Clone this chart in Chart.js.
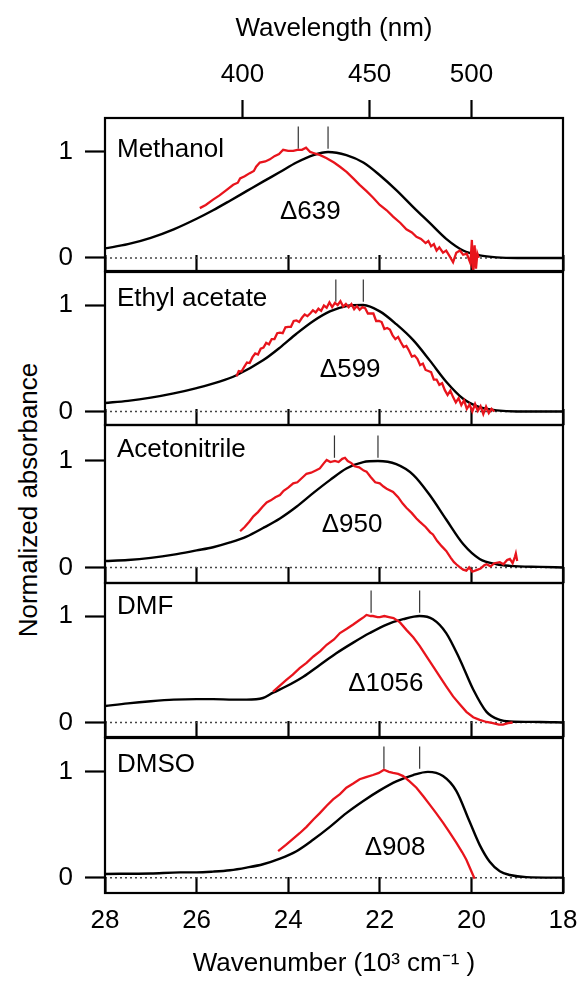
<!DOCTYPE html>
<html>
<head>
<meta charset="utf-8">
<script src="https://cdn.jsdelivr.net/npm/chart.js@4.4.0/dist/chart.umd.min.js"></script>
<style>
  html, body { margin: 0; padding: 0; background: #fff; }
  #fig { position: relative; width: 580px; height: 983px; }
  #fig canvas { position: absolute; left: 0; }
  #ytitle {
    position: absolute; left: 28px; top: 500px;
    transform: translate(-50%, -50%) rotate(-90deg);
    font: 26px "Liberation Sans", Arial, sans-serif; color: #000; white-space: nowrap;
  }
</style>
</head>
<body>
<div id="fig"><div id="ytitle">Normalized absorbance</div></div>
<script>
const solvents = ['Methanol', 'Ethyl acetate', 'Acetonitrile', 'DMF', 'DMSO'];
const shiftLabels = ['\u0394639', '\u0394599', '\u0394950', '\u03941056', '\u0394908'];
const wavenumberTicks = [28, 26, 24, 22, 20, 18];
const wavelengthTicks = [400, 450, 500];
const absorbanceTicks = [0, 1];

// peak positions (10^3 cm-1), marked by the short vertical lines
const peakRed = [23.78, 22.96, 22.99, 22.19, 21.91];
const peakBlack = [23.13, 22.36, 22.04, 21.13, 21.13];

// black curves: [wavenumber, normalized absorbance]
const absMethanol = [[28, 0.09], [27.5, 0.13], [27, 0.19], [26.5, 0.27], [26, 0.37], [25.64, 0.45], [25.27, 0.54],
  [24.91, 0.63], [24.55, 0.72], [24.18, 0.81], [23.82, 0.9], [23.45, 0.97], [23.13, 1.0], [22.73, 0.97],
  [22.36, 0.9], [22, 0.78], [21.64, 0.64], [21.27, 0.48], [20.91, 0.33], [20.55, 0.18], [20.18, 0.07],
  [19.82, 0.025], [19.45, 0.006], [19, 0], [18, 0]];
const absEthyl = [[28, 0.08], [27.5, 0.1], [27, 0.13], [26.5, 0.17], [26, 0.22], [25.5, 0.28], [25.13, 0.34],
  [24.55, 0.48], [24.18, 0.6], [23.82, 0.73], [23.45, 0.85], [23.09, 0.94], [22.73, 0.99], [22.36, 1.0],
  [22, 0.94], [21.64, 0.82], [21.27, 0.67], [20.91, 0.48], [20.55, 0.28], [20.18, 0.12], [19.82, 0.04],
  [19.45, 0.01], [19, 0], [18, 0]];
const absAcetonitrile = [[28, 0.06], [27.5, 0.07], [27, 0.09], [26.5, 0.12], [26, 0.16], [25.64, 0.19],
  [25.27, 0.235], [24.91, 0.29], [24.55, 0.37], [24.18, 0.46], [23.82, 0.57], [23.45, 0.7], [23.09, 0.82],
  [22.73, 0.93], [22.36, 0.99], [22.04, 1.0], [21.64, 0.97], [21.27, 0.87], [20.91, 0.68], [20.55, 0.45],
  [20.18, 0.22], [19.82, 0.08], [19.45, 0.03], [19.16, 0.015], [18.5, 0.005], [18, 0]];
const absDMF = [[28, 0.155], [27.5, 0.18], [27, 0.2], [26.5, 0.215], [26, 0.22], [25.64, 0.22], [25.2, 0.215],
  [24.91, 0.215], [24.55, 0.23], [24.33, 0.28], [24.04, 0.34], [23.67, 0.43], [23.31, 0.54], [22.95, 0.65],
  [22.58, 0.75], [22.22, 0.84], [21.85, 0.92], [21.49, 0.97], [21.13, 1.0], [20.84, 0.97], [20.55, 0.84],
  [20.25, 0.59], [19.96, 0.31], [19.67, 0.1], [19.38, 0.025], [19.16, 0.01], [18.5, 0.005], [18, 0]];
const absDMSO = [[28, 0.035], [27, 0.04], [26.36, 0.05], [26, 0.05], [25.64, 0.057], [25.27, 0.07], [24.91, 0.095],
  [24.55, 0.127], [24.18, 0.18], [23.82, 0.25], [23.45, 0.36], [23.09, 0.48], [22.73, 0.61], [22.36, 0.725],
  [22, 0.825], [21.64, 0.91], [21.27, 0.97], [20.95, 1.0], [20.62, 0.96], [20.33, 0.82], [20.04, 0.53],
  [19.82, 0.31], [19.6, 0.15], [19.38, 0.06], [19.16, 0.025], [18.8, 0.005], [18, 0]];

// red curves: [wavenumber, normalized signal]
const redMethanol = [[25.93, 0.47], [25.8, 0.5], [25.64, 0.55], [25.5, 0.59], [25.35, 0.64], [25.2, 0.69],
  [25.1, 0.71], [25.05, 0.75], [24.95, 0.77], [24.84, 0.8], [24.75, 0.82], [24.7, 0.86], [24.62, 0.9],
  [24.5, 0.91], [24.4, 0.93], [24.3, 0.96], [24.2, 0.98], [24.11, 1.02], [24, 1.01], [23.89, 1.01],
  [23.8, 1.02], [23.7, 1.02], [23.61, 1.04], [23.52, 1.0], [23.45, 0.99], [23.3, 0.97], [23.16, 0.94],
  [23, 0.9], [22.87, 0.86], [22.72, 0.81], [22.58, 0.75], [22.44, 0.69], [22.29, 0.63], [22.15, 0.57],
  [22, 0.5], [21.85, 0.45], [21.71, 0.39], [21.55, 0.33], [21.42, 0.27], [21.3, 0.24], [21.2, 0.2],
  [21.1, 0.18], [21, 0.14], [20.94, 0.16], [20.88, 0.11], [20.82, 0.13], [20.76, 0.07], [20.7, 0.1],
  [20.62, 0.05], [20.55, 0.07], [20.48, 0.02], [20.4, -0.04], [20.33, 0.05], [20.25, 0.07], [20.18, 0.03],
  [20.1, 0.04], [20.02, -0.05], [19.99, 0.17], [19.96, -0.14], [19.93, 0.12], [19.9, -0.1], [19.87, 0.04],
  [19.84, 0.0]];
const redEthyl = [[25.13, 0.33], [25.08, 0.38], [25.02, 0.375], [24.96, 0.42], [24.9, 0.46], [24.84, 0.455],
  [24.78, 0.51], [24.72, 0.545], [24.66, 0.535], [24.6, 0.59], [24.54, 0.6], [24.48, 0.645], [24.42, 0.63],
  [24.36, 0.68], [24.3, 0.68], [24.24, 0.735], [24.18, 0.74], [24.12, 0.735], [24.06, 0.79], [24, 0.795],
  [23.94, 0.795], [23.88, 0.85], [23.82, 0.855], [23.76, 0.84], [23.7, 0.88], [23.64, 0.91], [23.58, 0.895],
  [23.52, 0.92], [23.46, 0.95], [23.4, 0.93], [23.34, 0.965], [23.28, 0.945], [23.22, 0.995], [23.16, 0.975],
  [23.1, 1.025], [23.04, 0.98], [22.98, 1.02], [22.92, 1.0], [22.86, 1.035], [22.8, 0.985], [22.74, 1.01],
  [22.68, 0.98], [22.62, 1.01], [22.56, 0.96], [22.5, 0.99], [22.44, 0.955], [22.38, 0.98], [22.32, 0.97],
  [22.26, 0.92], [22.2, 0.92], [22.14, 0.92], [22.08, 0.85], [22.02, 0.85], [21.96, 0.84], [21.9, 0.775],
  [21.84, 0.785], [21.78, 0.77], [21.72, 0.715], [21.66, 0.68], [21.6, 0.7], [21.54, 0.65], [21.48, 0.605],
  [21.42, 0.615], [21.36, 0.57], [21.3, 0.515], [21.24, 0.525], [21.18, 0.495], [21.12, 0.435], [21.06, 0.45],
  [21, 0.39], [20.94, 0.38], [20.88, 0.37], [20.82, 0.3], [20.76, 0.3], [20.7, 0.25], [20.64, 0.265],
  [20.58, 0.2], [20.52, 0.155], [20.46, 0.195], [20.4, 0.135], [20.34, 0.085], [20.28, 0.125], [20.22, 0.06],
  [20.16, 0.105], [20.1, 0.025], [20.04, 0.065], [19.98, 0.0], [19.92, 0.07], [19.86, 0.005], [19.8, 0.05],
  [19.74, -0.025], [19.68, 0.045], [19.62, -0.015], [19.56, 0.025], [19.5, 0.0]];
const redAcetonitrile = [[25.05, 0.34], [24.95, 0.38], [24.85, 0.43], [24.76, 0.48], [24.66, 0.52], [24.56, 0.57],
  [24.47, 0.61], [24.38, 0.63], [24.28, 0.66], [24.18, 0.68], [24.1, 0.72], [24, 0.75], [23.89, 0.79],
  [23.8, 0.8], [23.7, 0.84], [23.6, 0.88], [23.5, 0.89], [23.4, 0.91], [23.31, 0.93], [23.22, 0.98],
  [23.16, 1.01], [23.08, 0.99], [22.98, 1.0], [22.9, 0.99], [22.82, 1.02], [22.76, 1.03], [22.7, 1.0],
  [22.62, 0.98], [22.55, 0.95], [22.45, 0.94], [22.35, 0.91], [22.29, 0.9], [22.2, 0.85], [22.1, 0.8],
  [22, 0.79], [21.92, 0.76], [21.85, 0.74], [21.71, 0.71], [21.6, 0.66], [21.5, 0.6], [21.42, 0.56],
  [21.3, 0.51], [21.2, 0.46], [21.13, 0.43], [21, 0.38], [20.9, 0.33], [20.84, 0.31], [20.75, 0.25],
  [20.65, 0.2], [20.55, 0.155], [20.45, 0.09], [20.38, 0.05], [20.33, 0.03], [20.25, 0.0], [20.18, -0.02],
  [20.11, -0.03], [20.05, 0.0], [19.98, -0.04], [19.89, -0.025], [19.8, -0.01], [19.72, 0.02], [19.67, 0.03],
  [19.58, 0.01], [19.5, 0.04], [19.38, 0.05], [19.3, 0.03], [19.22, 0.07], [19.16, 0.08], [19.1, 0.04],
  [19.05, 0.1], [19.03, 0.13], [19, 0.06]];
const redDMF = [[24.33, 0.29], [24.2, 0.34], [24.04, 0.4], [23.9, 0.45], [23.75, 0.51], [23.6, 0.56], [23.45, 0.62],
  [23.3, 0.67], [23.16, 0.73], [23, 0.78], [22.87, 0.84], [22.72, 0.88], [22.58, 0.92], [22.45, 0.96],
  [22.35, 0.99], [22.29, 1.01], [22.2, 1.0], [22.15, 1.0], [22.05, 0.99], [22, 0.99], [21.9, 1.0], [21.8, 0.99],
  [21.7, 0.98], [21.56, 0.94], [21.42, 0.87], [21.27, 0.8], [21.13, 0.72], [20.98, 0.62], [20.84, 0.53],
  [20.69, 0.43], [20.55, 0.34], [20.4, 0.245], [20.25, 0.17], [20.11, 0.1], [19.96, 0.05], [19.82, 0.025],
  [19.67, 0.005], [19.53, -0.006], [19.4, -0.02], [19.31, -0.02], [19.2, -0.005], [19.1, 0.0]];
const redDMSO = [[24.22, 0.25], [24.05, 0.31], [23.89, 0.37], [23.75, 0.42], [23.6, 0.48], [23.45, 0.55],
  [23.31, 0.61], [23.16, 0.68], [23.02, 0.74], [22.87, 0.79], [22.73, 0.85], [22.58, 0.89], [22.44, 0.93],
  [22.3, 0.95], [22.15, 0.97], [22.02, 0.99], [21.91, 1.02], [21.8, 1.0], [21.71, 0.99], [21.6, 0.98],
  [21.49, 0.96], [21.35, 0.91], [21.2, 0.85], [21.05, 0.77], [20.91, 0.69], [20.77, 0.61], [20.62, 0.52],
  [20.48, 0.43], [20.33, 0.33], [20.2, 0.24], [20.11, 0.17], [20.02, 0.08], [19.93, -0.01]];

const blackCurves = [absMethanol, absEthyl, absAcetonitrile, absDMF, absDMSO];
const redCurves = [redMethanol, redEthyl, redAcetonitrile, redDMF, redDMSO];

// where the Δ labels sit: [wavenumber of left edge, baseline value]
const shiftLabelAt = [[24.18, 0.37], [23.31, 0.32], [23.27, 0.33], [22.69, 0.3], [22.33, 0.215]];

// layout (pixels)
const W = 580, H = 983;
const plotLeft = 105, plotRight = 563;
const panelTop = [118, 272, 425, 583, 738];
const panelBottom = [271, 425, 583, 737, 893];
const nameBaseline = [39, 34, 32, 31, 34];
const yMin = [-0.123, -0.127, -0.146, -0.136, -0.145];
const yMax = [1.32, 1.31, 1.338, 1.31, 1.32];
const xMin = 18, xMax = 28;
const markerLow = 1.03, markerHigh = 1.24;

const FONT = '"Liberation Sans", Arial, sans-serif';
Chart.defaults.font.family = FONT;
Chart.defaults.font.size = 26;
Chart.defaults.color = '#000';

const toXY = pts => pts.map(([x, y]) => ({ x, y }));

const panelDecor = {
  id: 'panelDecor',
  afterDatasetsDraw(chart, args, opts) {
    const { ctx, chartArea: a, scales } = chart;
    ctx.save();
    ctx.lineWidth = 2.2;
    ctx.strokeStyle = '#000';
    ctx.strokeRect(a.left, a.top, a.right - a.left, a.bottom - a.top);
    ctx.fillStyle = '#000';
    ctx.font = '26px ' + FONT;
    ctx.textBaseline = 'alphabetic';
    ctx.textAlign = 'left';
    ctx.fillText(opts.name, a.left + 12, a.top + opts.nameBaseline);
    ctx.fillText(opts.shift, scales.x.getPixelForValue(opts.shiftAt[0]), scales.y.getPixelForValue(opts.shiftAt[1]));
    ctx.restore();
  }
};

function noPad(s) {
  s.paddingTop = 0; s.paddingBottom = 0; s.paddingLeft = 0; s.paddingRight = 0;
}

function makePanel(i) {
  const first = i === 0, last = i === solvents.length - 1;
  const top = first ? 0 : panelTop[i] - 4;
  const bottom = last ? H : panelBottom[i] + 4;

  const canvas = document.createElement('canvas');
  canvas.width = W;
  canvas.height = bottom - top;
  canvas.style.top = top + 'px';
  document.getElementById('fig').appendChild(canvas);

  const marker = x => ({
    data: [{ x, y: markerLow }, { x, y: markerHigh }],
    borderColor: '#333', borderWidth: 1.2, pointRadius: 0, showLine: true
  });

  const scales = {
    x: {
      type: 'linear', position: 'bottom', min: xMin, max: xMax, reverse: true,
      afterBuildTicks: s => { s.ticks = wavenumberTicks.map(v => ({ value: v })); },
      grid: { drawOnChartArea: false, tickLength: -16, tickWidth: 2.2, tickColor: '#000' },
      border: { display: false },
      ticks: { display: last, padding: 28, maxRotation: 0, autoSkip: false },
      title: {
        display: last, text: 'Wavenumber (10\u00B3 cm\u207B\u00B9 )',
        padding: { top: 0, bottom: 4 }
      },
      afterFit: s => { s.height = bottom - panelBottom[i]; noPad(s); }
    },
    y: {
      type: 'linear', position: 'left', min: yMin[i], max: yMax[i],
      afterBuildTicks: s => { s.ticks = absorbanceTicks.map(v => ({ value: v })); },
      grid: { drawOnChartArea: false, tickLength: 20, tickWidth: 2.2, tickColor: '#000' },
      border: { display: false },
      ticks: { padding: 12 },
      afterFit: s => { s.width = plotLeft; noPad(s); }
    }
  };
  if (first) {
    scales.x2 = {
      type: 'linear', position: 'top', min: xMin, max: xMax, reverse: true,
      afterBuildTicks: s => { s.ticks = wavelengthTicks.map(l => ({ value: 1e4 / l })); },
      grid: { drawOnChartArea: false, tickLength: 18, tickWidth: 2.2, tickColor: '#000' },
      border: { display: false },
      ticks: { padding: 10, maxRotation: 0, autoSkip: false, callback: v => Math.round(1e4 / v) },
      title: { display: true, text: 'Wavelength (nm)', padding: { top: 13, bottom: 0 } },
      afterFit: s => { s.height = panelTop[0]; noPad(s); }
    };
  }

  new Chart(canvas, {
    type: 'scatter',
    data: {
      datasets: [
        { data: toXY(redCurves[i]), borderColor: '#e8141c', borderWidth: 2.3, pointRadius: 0, showLine: true },
        { data: toXY(blackCurves[i]), borderColor: '#000', borderWidth: 2.4, pointRadius: 0, showLine: true,
          cubicInterpolationMode: 'monotone' },
        marker(peakRed[i]),
        marker(peakBlack[i]),
        { data: [{ x: xMax, y: 0 }, { x: xMin, y: 0 }], borderColor: '#444', borderWidth: 1.5,
          borderDash: [2, 3], pointRadius: 0, showLine: true }
      ]
    },
    options: {
      responsive: false,
      animation: false,
      events: [],
      layout: { padding: { top: first ? 0 : 4, right: W - plotRight, left: 0, bottom: 0 } },
      scales,
      plugins: {
        legend: { display: false },
        tooltip: { enabled: false },
        panelDecor: {
          name: solvents[i], nameBaseline: nameBaseline[i],
          shift: shiftLabels[i], shiftAt: shiftLabelAt[i]
        }
      }
    },
    plugins: [panelDecor]
  });
}

solvents.forEach((s, i) => makePanel(i));
</script>
</body>
</html>
